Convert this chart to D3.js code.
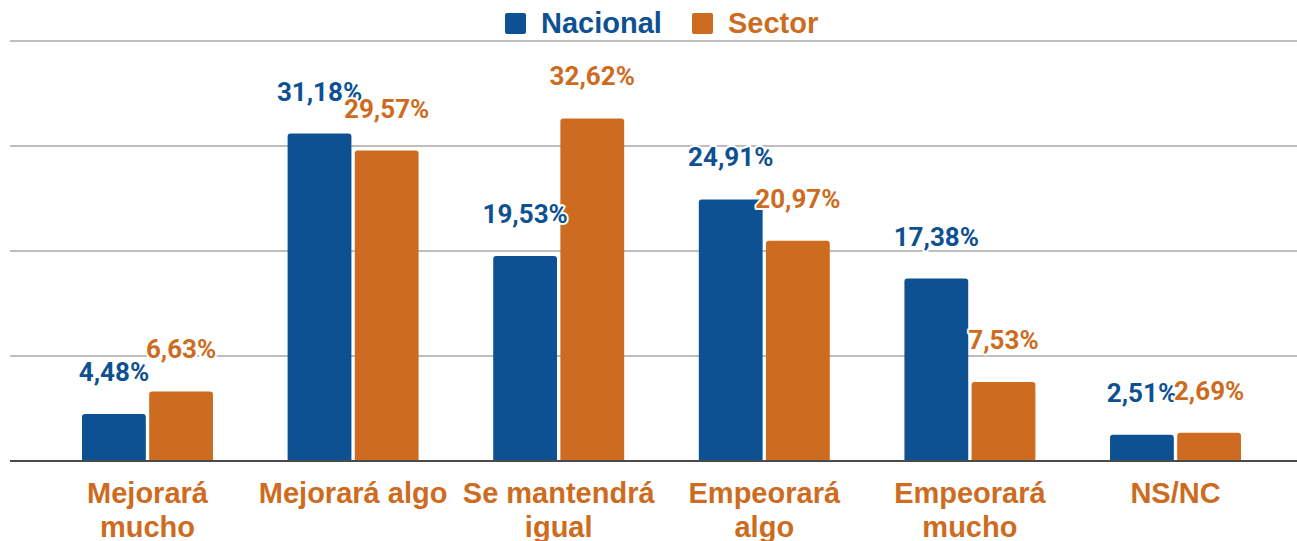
<!DOCTYPE html>
<html>
<head>
<meta charset="utf-8">
<script src="https://cdn.jsdelivr.net/npm/d3@7"></script>
<style>
  body { margin: 0; background: #fff; }
  text { font-weight: bold; }
  .val { font-family: Roboto, "Noto Sans", sans-serif; }
  .cat, .leg { font-family: "Liberation Sans", Arial, sans-serif; }
</style>
</head>
<body>
<div id="chart"></div>
<script>
// data
var categories = ["Mejorará mucho", "Mejorará algo", "Se mantendrá igual", "Empeorará algo", "Empeorará mucho", "NS/NC"];
var tickLines = [["Mejorará", "mucho"], ["Mejorará algo"], ["Se mantendrá", "igual"], ["Empeorará", "algo"], ["Empeorará", "mucho"], ["NS/NC"]];
var series = ["Nacional", "Sector"];
var nacional = [4.48, 31.18, 19.53, 24.91, 17.38, 2.51];
var sector = [6.63, 29.57, 32.62, 20.97, 7.53, 2.69];
var gridTicks = [0, 10, 20, 30, 40];

var colors = {Nacional: "#0d5192", Sector: "#cd6c21"};

var W = 1297, H = 541;
var svg = d3.select("#chart").append("svg")
    .attr("width", W)
    .attr("height", H);

var x0 = d3.scaleBand()
    .domain(categories)
    .range([45, 1278])
    .paddingInner(0.363)
    .paddingOuter(0.18);

var x1 = d3.scaleBand()
    .domain(series)
    .range([0, x0.bandwidth()])
    .paddingInner(0.05);

var y = d3.scaleLinear()
    .domain([0, 40])
    .range([461, 41]);

// gridlines
svg.append("g")
  .selectAll("line")
  .data(gridTicks.slice(1))
  .enter()
  .append("line")
    .attr("x1", 10)
    .attr("x2", W)
    .attr("y1", d => y(d))
    .attr("y2", d => y(d))
    .attr("stroke", "#bdbdbd")
    .attr("stroke-width", 2);

var rows = categories.map((c, i) => ({cat: c, values: [
  {key: "Nacional", value: nacional[i]},
  {key: "Sector", value: sector[i]}
]}));

// bars
var groups = svg.append("g")
  .selectAll("g")
  .data(rows)
  .enter()
  .append("g")
    .attr("transform", d => "translate(" + x0(d.cat) + ",0)");

function topRounded(x, yTop, w, h, r) {
  r = Math.min(r, h);
  return "M" + x + "," + (yTop + h) +
    "V" + (yTop + r) +
    "Q" + x + "," + yTop + " " + (x + r) + "," + yTop +
    "H" + (x + w - r) +
    "Q" + (x + w) + "," + yTop + " " + (x + w) + "," + (yTop + r) +
    "V" + (yTop + h) + "Z";
}

groups.selectAll("path")
  .data(d => d.values)
  .enter()
  .append("path")
    .attr("d", d => topRounded(x1(d.key), y(d.value), x1.bandwidth(), y(0) - y(d.value), 3))
    .attr("fill", d => colors[d.key]);

// value labels
groups.selectAll("text")
  .data(d => d.values)
  .enter()
  .append("text")
    .attr("class", "val")
    .attr("x", d => x1(d.key) + x1.bandwidth() / 2)
    .attr("y", d => y(d.value) - 33)
    .attr("text-anchor", "middle")
    .attr("font-size", "26px")
    .attr("fill", d => colors[d.key])
    .attr("stroke", "#fff")
    .attr("stroke-width", 4)
    .attr("stroke-linejoin", "round")
    .attr("paint-order", "stroke")
    .text(d => d.value.toFixed(2).replace(".", ",") + "%");

// baseline
svg.append("line")
  .attr("x1", 10)
  .attr("x2", W)
  .attr("y1", y(0))
  .attr("y2", y(0))
  .attr("stroke", "#4a4a4a")
  .attr("stroke-width", 2);

// category labels
var xAxis = svg.append("g");
categories.forEach((c, i) => {
  var t = xAxis.append("text")
    .attr("class", "cat")
    .attr("x", x0(c) + x0.bandwidth() / 2)
    .attr("y", 503)
    .attr("text-anchor", "middle")
    .attr("font-size", "29px")
    .attr("fill", "#cd6c21");
  tickLines[i].forEach((ln, j) => {
    t.append("tspan")
      .attr("x", x0(c) + x0.bandwidth() / 2)
      .attr("dy", j === 0 ? 0 : 34)
      .text(ln);
  });
});

// legend
var legend = svg.append("g");
var legendX = [505, 692];
series.forEach((s, i) => {
  legend.append("rect")
    .attr("x", legendX[i])
    .attr("y", 13)
    .attr("width", 21)
    .attr("height", 21)
    .attr("rx", 2)
    .attr("fill", colors[s]);
  legend.append("text")
    .attr("class", "leg")
    .attr("x", legendX[i] + 36)
    .attr("y", 33)
    .attr("font-size", "29px")
    .attr("fill", colors[s])
    .text(s);
});
</script>
</body>
</html>
